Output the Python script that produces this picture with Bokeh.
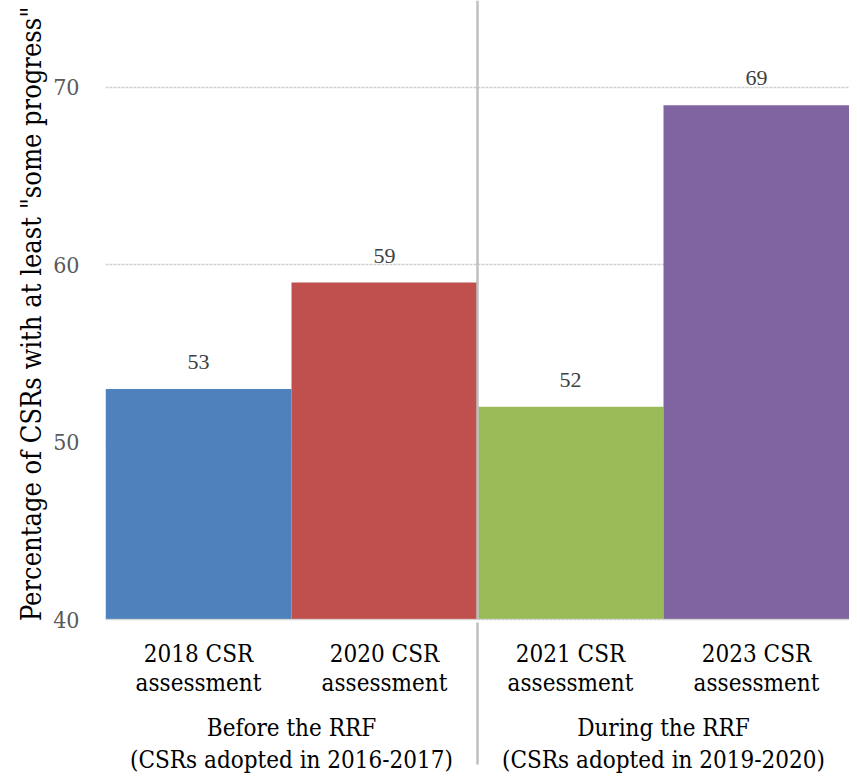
from bokeh.plotting import figure
from bokeh.models import FactorRange, ColumnDataSource, LabelSet, Span, Range1d, FixedTicker
from bokeh.embed import file_html
from bokeh.resources import INLINE

groups = ["Before the RRF\n(CSRs adopted in 2016-2017)",
          "During the RRF\n(CSRs adopted in 2019-2020)"]
assessments = ["2018 CSR\nassessment", "2020 CSR\nassessment",
               "2021 CSR\nassessment", "2023 CSR\nassessment"]
group_index = [0, 0, 1, 1]
values = [53, 59, 52, 69]
colors = ["#4F81BD", "#C0504D", "#9BBB59", "#8064A2"]
y_ticks = [40, 50, 60, 70]
y_label = 'Percentage of CSRs with at least  "some progress"'

FONT = "DejaVu Serif Condensed"

x = [(groups[g], a) for g, a in zip(group_index, assessments)]
src = ColumnDataSource(dict(x=x, v=values, c=colors, t=[str(v) for v in values]))

p = figure(x_range=FactorRange(*x, range_padding=0, group_padding=0, factor_padding=0),
           y_range=Range1d(40, 74.9), width=849, height=776,
           output_backend="svg", toolbar_location=None,
           min_border_left=105, min_border_right=0, min_border_top=0, min_border_bottom=156)
p.outline_line_color = None

p.vbar(x="x", top="v", width=1.0, bottom=40, color="c", line_color=None, source=src)

labels = LabelSet(x="x", y="v", text="t", source=src, y_offset=20,
                  text_align="center", text_baseline="bottom",
                  text_font=FONT, text_font_size="22px", text_color="#404040")
p.add_layout(labels)

boundary = group_index.count(0)
p.add_layout(Span(location=boundary, dimension="height", line_color="#BFBFBF", line_width=2.5))

p.yaxis.ticker = FixedTicker(ticks=y_ticks)
p.yaxis.axis_line_color = None
p.yaxis.major_tick_line_color = None
p.yaxis.minor_tick_line_color = None
p.yaxis.major_label_text_font = FONT
p.yaxis.major_label_text_font_size = "23px"
p.yaxis.major_label_text_color = "#595959"
p.yaxis.major_label_standoff = 20
p.yaxis.axis_label = y_label
p.yaxis.axis_label_text_font = FONT
p.yaxis.axis_label_text_font_size = "27px"
p.yaxis.axis_label_text_font_style = "normal"
p.yaxis.axis_label_text_color = "#000000"
p.yaxis.axis_label_standoff = 3

p.xgrid.grid_line_color = None
p.ygrid.grid_line_color = "#D0D0D0"
p.ygrid.grid_line_width = 1.5
p.ygrid.grid_line_dash = "3 1"

xa = p.xaxis[0]
xa.axis_line_color = "#D0D0D0"
xa.axis_line_width = 1.5
xa.axis_line_dash = "3 1"
xa.major_tick_line_color = None
xa.minor_tick_line_color = None
xa.major_label_text_font = FONT
xa.major_label_text_font_size = "24px"
xa.major_label_text_color = "#000000"
xa.major_label_text_line_height = 1.07
xa.major_label_orientation = "horizontal"
xa.major_label_standoff = 14
xa.group_text_font = FONT
xa.group_text_font_size = "24px"
xa.group_text_color = "#000000"
xa.group_text_font_style = "normal"
xa.group_text_line_height = 1.12
xa.separator_line_color = "#BFBFBF"
xa.separator_line_width = 2.5

open("out.html", "w").write(file_html(p, INLINE))
